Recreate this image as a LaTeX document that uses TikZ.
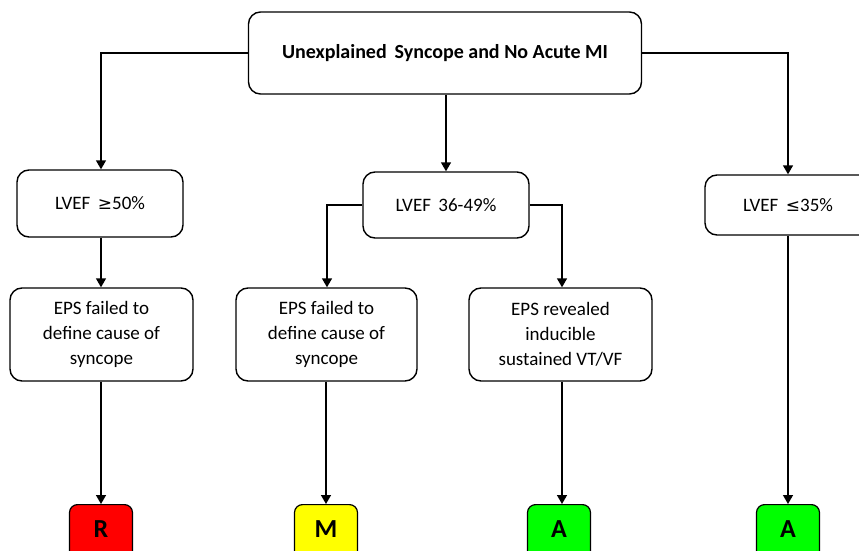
\documentclass[tikz,border=0pt]{standalone}
\usepackage{fontspec}
\setmainfont{Carlito}
\newfontfamily\symf{DejaVu Sans}
\usetikzlibrary{arrows.meta}
\definecolor{rbox}{RGB}{255,0,0}
\definecolor{ybox}{RGB}{255,255,0}
\definecolor{gbox}{RGB}{0,255,0}
\tikzset{
  box/.style={draw=black, line width=1.4pt, rounded corners=12pt, fill=white, align=center, font=\fontsize{19}{25}\selectfont, inner sep=0pt},
  cbox/.style={draw=black, line width=1.2pt, rounded corners=8pt, minimum width=63pt, minimum height=70pt, font=\fontsize{26}{28}\selectfont\bfseries, inner sep=0pt},
  arr/.style={line width=1.4pt, -{Triangle[length=9pt,width=10pt]}}
}
\newcommand{\lett}[1]{\raisebox{2pt}[0pt][0pt]{#1}}
\begin{document}
\begin{tikzpicture}[x=1pt,y=-1pt]
\useasboundingbox (0,0) rectangle (859,551);
\clip (0,0) rectangle (859,551);
% nodes
\node[box, minimum width=393pt, minimum height=82pt, font=\fontsize{20}{24}\selectfont\bfseries] (top) at (445,53) {Unexplained\, Syncope and No Acute MI};
\node[box, minimum width=166pt, minimum height=67pt] (l50) at (100,203.5) {LVEF\, {\symf\fontsize{17}{20}\selectfont ≥}50\%};
\node[box, minimum width=166pt, minimum height=66pt] (l36) at (446,205) {LVEF\, 36-49\%};
\node[box, minimum width=166pt, minimum height=60pt] (l35) at (788,205) {LVEF\, {\symf\fontsize{17}{20}\selectfont ≤}35\%};
\node[box, minimum width=183pt, minimum height=93pt] (e1) at (101.5,334.5) {EPS failed to\\define cause of\\syncope};
\node[box, minimum width=181pt, minimum height=93pt] (e2) at (326.5,334.5) {EPS failed to\\define cause of\\syncope};
\node[box, minimum width=183pt, minimum height=93pt] (e3) at (560.5,334.5) {EPS revealed\\inducible\\sustained VT/VF};
\node[cbox, fill=rbox, anchor=north] (r) at (101,504) {\lett{R}};
\node[cbox, fill=ybox, anchor=north] (m) at (326,504) {\lett{M}};
\node[cbox, fill=gbox, anchor=north] (a1) at (559,504) {\lett{A}};
\node[cbox, fill=gbox, anchor=north] (a2) at (788,504) {\lett{A}};
% connectors
\coordinate (c1) at (101,53);
\coordinate (c2) at (788,53);
\coordinate (c3) at (327,205);
\coordinate (c4) at (562,205);
\draw[arr] (top.west) -- (c1) -- (l50.north -| c1);
\draw[arr] (top.south -| l36.north) -- (l36.north);
\draw[arr] (top.east) -- (c2) -- (l35.north);
\draw[arr] (l50.south -| c1) -- (e1.north -| c1);
\draw[arr] (l36.west) -- (c3) -- (e2.north -| c3);
\draw[arr] (l36.east) -- (c4) -- (e3.north -| c4);
\draw[arr] (e1.south -| r.north) -- (r.north);
\draw[arr] (e2.south -| m.north) -- (m.north);
\draw[arr] (e3.south -| c4) -- (a1.north -| c4);
\draw[arr] (l35.south) -- (a2.north);
\end{tikzpicture}
\end{document}
